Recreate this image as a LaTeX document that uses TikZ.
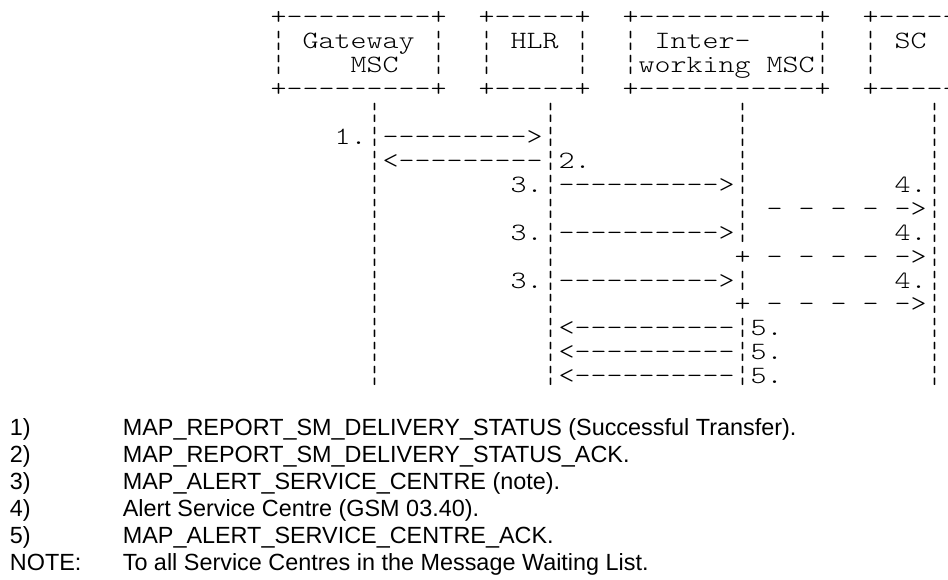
\documentclass[tikz,border=0pt]{standalone}
\usepackage{fontspec}
\setmonofont{lmmonolt10-regular.otf}[FakeStretch=1.2249]
\newfontfamily\legendfont{Liberation Sans}
\usepackage{tikz}

% one character cell of the ascii chart is 8pt wide
\newcommand\asciifont{\ttfamily\fontsize{12.44}{12}\selectfont\def~{\hbox to 8pt{}}}

\begin{document}
\begin{tikzpicture}[
    x=0.5pt, y=-0.5pt,
    ascii/.style = {anchor=base west, inner sep=0pt, font=\asciifont},
    legend/.style = {anchor=base west, inner sep=0pt, font=\legendfont\fontsize{11.7}{14}\selectfont}
]
    \useasboundingbox (0,0) rectangle (948,579);

    % boxes of the four entities
    \node[ascii] (r0) at (270.3, 24.5) {+---------+~~+-----+~~+-----------+~~+-----+};
    \node[ascii] (r1) at (270.3, 48.5) {¦~Gateway~¦~~¦~HLR~¦~~¦~Inter-~~~~¦~~¦~SC~~¦};
    \node[ascii] (r2) at (270.3, 72.4) {¦~~~~MSC~~¦~~¦~~~~~¦~~¦working~MSC¦~~¦~~~~~¦};
    \node[ascii] (r3) at (270.3, 96.4) {+---------+~~+-----+~~+-----------+~~+-----+};

    % message sequence
    \node[ascii] (r4)  at (270.3, 120.3) {~~~~~~¦~~~~~~~~~~¦~~~~~~~~~~~¦~~~~~~~~~~~¦};
    \node[ascii] (r5)  at (270.3, 144.3) {~~~~1.¦--------->¦~~~~~~~~~~~¦~~~~~~~~~~~¦};
    \node[ascii] (r6)  at (270.3, 168.2) {~~~~~~¦<---------¦2.~~~~~~~~~¦~~~~~~~~~~~¦};
    \node[ascii] (r7)  at (270.3, 192.2) {~~~~~~¦~~~~~~~~3.¦---------->¦~~~~~~~~~4.¦};
    \node[ascii] (r8)  at (270.3, 216.1) {~~~~~~¦~~~~~~~~~~¦~~~~~~~~~~~¦~-~-~-~-~->¦};
    \node[ascii] (r9)  at (270.3, 240.1) {~~~~~~¦~~~~~~~~3.¦---------->¦~~~~~~~~~4.¦};
    \node[ascii] (r10) at (270.3, 264.0) {~~~~~~¦~~~~~~~~~~¦~~~~~~~~~~~+~-~-~-~-~->¦};
    \node[ascii] (r11) at (270.3, 288.0) {~~~~~~¦~~~~~~~~3.¦---------->¦~~~~~~~~~4.¦};
    \node[ascii] (r12) at (270.3, 311.9) {~~~~~~¦~~~~~~~~~~¦~~~~~~~~~~~+~-~-~-~-~->¦};
    \node[ascii] (r13) at (270.3, 335.9) {~~~~~~¦~~~~~~~~~~¦<----------¦5.~~~~~~~~~¦};
    \node[ascii] (r14) at (270.3, 359.8) {~~~~~~¦~~~~~~~~~~¦<----------¦5.~~~~~~~~~¦};
    \node[ascii] (r15) at (270.3, 383.8) {~~~~~~¦~~~~~~~~~~¦<----------¦5.~~~~~~~~~¦};

    % legend
    \node[legend] (l1) at (9.5, 435.0) {1)};
    \node[legend] (t1) at (122.4, 435.0) {MAP\_REPORT\_SM\_DELIVERY\_STATUS (Successful Transfer).};
    \node[legend] (l2) at (9.5, 462.1) {2)};
    \node[legend] (t2) at (122.4, 462.1) {MAP\_REPORT\_SM\_DELIVERY\_STATUS\_ACK.};
    \node[legend] (l3) at (9.5, 489.2) {3)};
    \node[legend] (t3) at (122.4, 489.2) {MAP\_ALERT\_SERVICE\_CENTRE (note).};
    \node[legend] (l4) at (9.5, 516.3) {4)};
    \node[legend] (t4) at (122.4, 516.3) {Alert Service Centre (GSM 03.40).};
    \node[legend] (l5) at (9.5, 543.4) {5)};
    \node[legend] (t5) at (122.4, 543.4) {MAP\_ALERT\_SERVICE\_CENTRE\_ACK.};
    \node[legend] (l6) at (9.5, 570.5) {NOTE:};
    \node[legend] (t6) at (122.4, 570.5) {To all Service Centres in the Message Waiting List.};
\end{tikzpicture}
\end{document}
